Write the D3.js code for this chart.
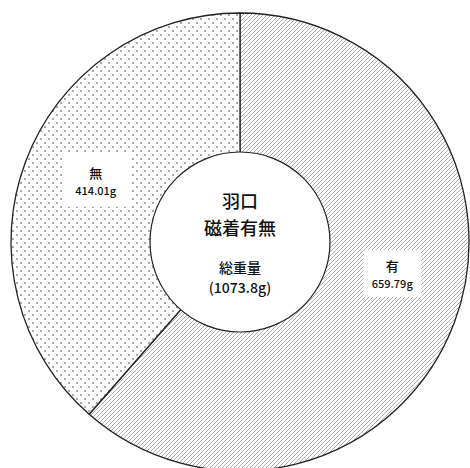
<!DOCTYPE html>
<html>
<head>
<meta charset="utf-8">
<script src="https://cdn.jsdelivr.net/npm/d3@7"></script>
<style>
  body { margin: 0; background: #fff; }
  text { font-family: "Noto Sans CJK JP", sans-serif; fill: #111; font-weight: 500; }
</style>
</head>
<body>
<script>
var categories = ["有", "無"];
var weights = [659.79, 414.01];
var valueLabels = ["659.79g", "414.01g"];
var centerTitle = ["羽口", "磁着有無"];
var centerSub = ["総重量", "(1073.8g)"];

var width = 470, height = 468;
var cx = 240, cy = 242, outerR = 229, innerR = 90;

var svg = d3.select("body").append("svg")
    .attr("width", width)
    .attr("height", height);

var defs = svg.append("defs");

// diagonal hatch
var hatch = defs.append("pattern")
    .attr("id", "hatch")
    .attr("patternUnits", "userSpaceOnUse")
    .attr("width", 4).attr("height", 4);
hatch.append("rect").attr("width", 4).attr("height", 4).attr("fill", "#fff");
hatch.append("path")
    .attr("d", "M-1,1 l2,-2 M0,4 l4,-4 M3,5 l2,-2")
    .attr("stroke", "#a8a8a8")
    .attr("stroke-width", 0.9);

// dots
var dots = defs.append("pattern")
    .attr("id", "dots")
    .attr("patternUnits", "userSpaceOnUse")
    .attr("width", 8).attr("height", 8);
dots.append("rect").attr("width", 8).attr("height", 8).attr("fill", "#fff");
dots.append("rect").attr("x", 0).attr("y", 0).attr("width", 2).attr("height", 2).attr("fill", "#aaa")
    .attr("shape-rendering", "crispEdges");
dots.append("rect").attr("x", 4).attr("y", 4).attr("width", 2).attr("height", 2).attr("fill", "#aaa")
    .attr("shape-rendering", "crispEdges");

var fills = d3.scaleOrdinal().domain(categories).range(["url(#hatch)", "url(#dots)"]);

var data = categories.map(function(c, i){ return {name: c, value: weights[i], label: valueLabels[i]}; });

var pie = d3.pie().sort(null).value(function(d){ return d.value; });
var arcs = pie(data);

var arc = d3.arc().innerRadius(0).outerRadius(outerR);

var g = svg.append("g").attr("transform", "translate(" + cx + "," + cy + ")");

g.selectAll("path.slice")
  .data(arcs)
  .enter().append("path")
    .attr("class", "slice")
    .attr("d", arc)
    .attr("fill", function(d){ return fills(d.data.name); })
    .attr("stroke", "#222")
    .attr("stroke-width", 1.3);

// center circle
g.append("circle")
    .attr("r", innerR)
    .attr("fill", "#fff")
    .attr("stroke", "#222")
    .attr("stroke-width", 1.2);

// slice labels
var labelShift = [-0.14, 0.03];
var labelR = 156;
var lab = g.selectAll("g.lab")
  .data(arcs)
  .enter().append("g")
    .attr("class", "lab")
    .attr("transform", function(d, i){
        var a = (d.startAngle + d.endAngle) / 2 + labelShift[i];
        return "translate(" + (Math.sin(a) * labelR) + "," + (-Math.cos(a) * labelR) + ")";
    });

lab.append("rect")
    .attr("fill", "#fff");

lab.append("text")
    .attr("text-anchor", "middle")
    .attr("y", -5)
    .attr("font-size", 13)
    .text(function(d){ return d.data.name; });

lab.append("text")
    .attr("text-anchor", "middle")
    .attr("y", 12)
    .attr("font-size", 11)
    .text(function(d){ return d.data.label; });

lab.each(function(d, i){
    var bb = this.getBBox();
    var padX = i === 0 ? 8 : 13, padY = i === 0 ? 6 : 9;
    d3.select(this).select("rect")
      .attr("x", bb.x - padX).attr("y", bb.y - padY)
      .attr("width", bb.width + 2 * padX).attr("height", bb.height + 2 * padY);
});

// center text
g.selectAll("text.title")
  .data(centerTitle)
  .enter().append("text")
    .attr("class", "title")
    .attr("text-anchor", "middle")
    .attr("y", function(d, i){ return -34 + i * 27; })
    .attr("font-size", 18)
    .text(function(d){ return d; });

g.selectAll("text.sub")
  .data(centerSub)
  .enter().append("text")
    .attr("class", "sub")
    .attr("text-anchor", "middle")
    .attr("y", function(d, i){ return 31 + i * 20; })
    .attr("font-size", 14)
    .text(function(d){ return d; });
</script>
</body>
</html>
